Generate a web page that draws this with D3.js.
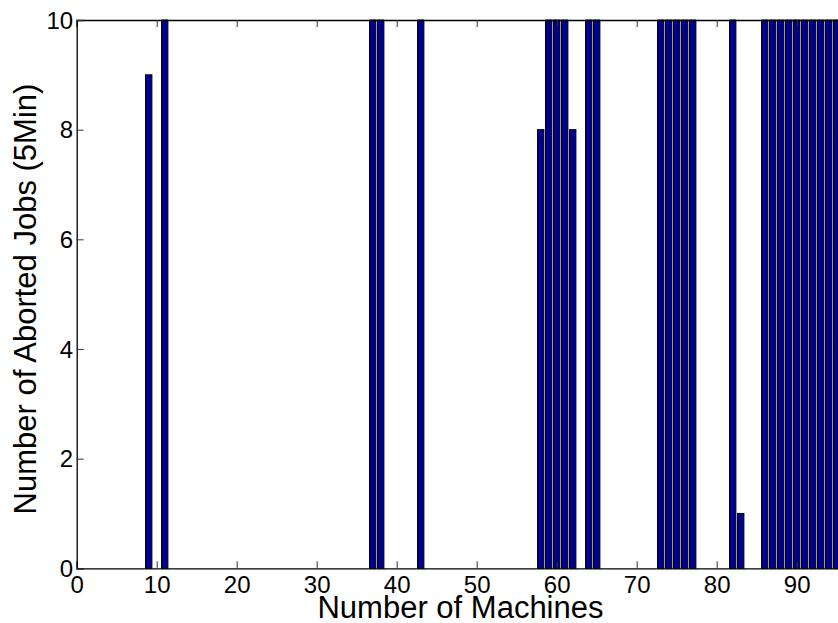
<!DOCTYPE html>
<html>
<head>
<meta charset="utf-8">
<script src="https://cdn.jsdelivr.net/npm/d3@7"></script>
<style>
  html, body { margin: 0; padding: 0; background: #fff; }
  svg { display: block; }
  text { font-family: "Liberation Sans", Arial, Helvetica, sans-serif; fill: #000; }
</style>
</head>
<body>
<svg id="chart" width="838" height="623"></svg>
<script>
// Aborted jobs (5 min window) per machine, machines 1..95
const abortedJobs = [
  0, 0, 0, 0, 0, 0, 0, 0, 9, 0,
  10, 0, 0, 0, 0, 0, 0, 0, 0, 0,
  0, 0, 0, 0, 0, 0, 0, 0, 0, 0,
  0, 0, 0, 0, 0, 0, 10, 10, 0, 0,
  0, 0, 10, 0, 0, 0, 0, 0, 0, 0,
  0, 0, 0, 0, 0, 0, 0, 8, 10, 10,
  10, 8, 0, 10, 10, 0, 0, 0, 0, 0,
  0, 0, 10, 10, 10, 10, 10, 0, 0, 0,
  0, 10, 1, 0, 0, 10, 10, 10, 10, 10,
  10, 10, 10, 10, 10
];
const machines = d3.range(1, abortedJobs.length + 1);
const xTicks = [0, 10, 20, 30, 40, 50, 60, 70, 80, 90];
const yTicks = [0, 2, 4, 6, 8, 10];
const xDomain = [0, 96];
const yDomain = [0, 10];

const plot = { left: 76.7, right: 844.7, top: 20, bottom: 568.3 };
const svg = d3.select("#chart");

const x = d3.scaleLinear().domain(xDomain).range([plot.left, plot.right]);
const y = d3.scaleLinear().domain(yDomain).range([plot.bottom, plot.top]);
const barW = x(0.8) - x(0);

// bars
svg.append("g")
  .selectAll("rect")
  .data(machines)
  .join("rect")
  .attr("x", d => x(d) - barW / 2)
  .attr("y", (d, i) => y(abortedJobs[i]))
  .attr("width", barW)
  .attr("height", (d, i) => y(0) - y(abortedJobs[i]))
  .attr("fill", "#00008f")
  .attr("stroke", "#000")
  .attr("stroke-width", 1);

// axes with inward ticks
const tick = 7;
const gx = svg.append("g")
  .attr("transform", `translate(0,${plot.bottom})`)
  .call(d3.axisBottom(x).tickValues(xTicks).tickSize(-tick).tickFormat(d3.format("d")));
const gxTop = svg.append("g")
  .attr("transform", `translate(0,${plot.top})`)
  .call(d3.axisTop(x).tickValues(xTicks).tickSize(-tick).tickFormat(""));
const gy = svg.append("g")
  .attr("transform", `translate(${plot.left},0)`)
  .call(d3.axisLeft(y).tickValues(yTicks).tickSize(-tick).tickFormat(d3.format("d")));
const gyRight = svg.append("g")
  .attr("transform", `translate(${plot.right},0)`)
  .call(d3.axisRight(y).tickValues(yTicks).tickSize(-tick).tickFormat(""));

[gx, gxTop, gy, gyRight].forEach(g => {
  g.select(".domain").attr("stroke", "#000").attr("stroke-width", 1.3);
  g.selectAll(".tick line").attr("stroke", "#333").attr("stroke-width", 1);
});

gx.selectAll(".tick text")
  .attr("y", 25).attr("dy", 0)
  .style("font-size", "24px")
  .style("font-family", "'Liberation Sans', Arial, sans-serif")
  .attr("fill", "#000");
gy.selectAll(".tick text")
  .attr("x", -3.5).attr("dy", "0.34em")
  .style("font-size", "24px")
  .style("font-family", "'Liberation Sans', Arial, sans-serif")
  .attr("fill", "#000");

// axis titles
svg.append("text")
  .attr("x", 460.5).attr("y", 618)
  .attr("text-anchor", "middle")
  .style("font-size", "31px")
  .text("Number of Machines");

svg.append("text")
  .attr("transform", `translate(36,299) rotate(-90)`)
  .attr("text-anchor", "middle")
  .style("font-size", "31px")
  .text("Number of Aborted Jobs (5Min)");
</script>
</body>
</html>
